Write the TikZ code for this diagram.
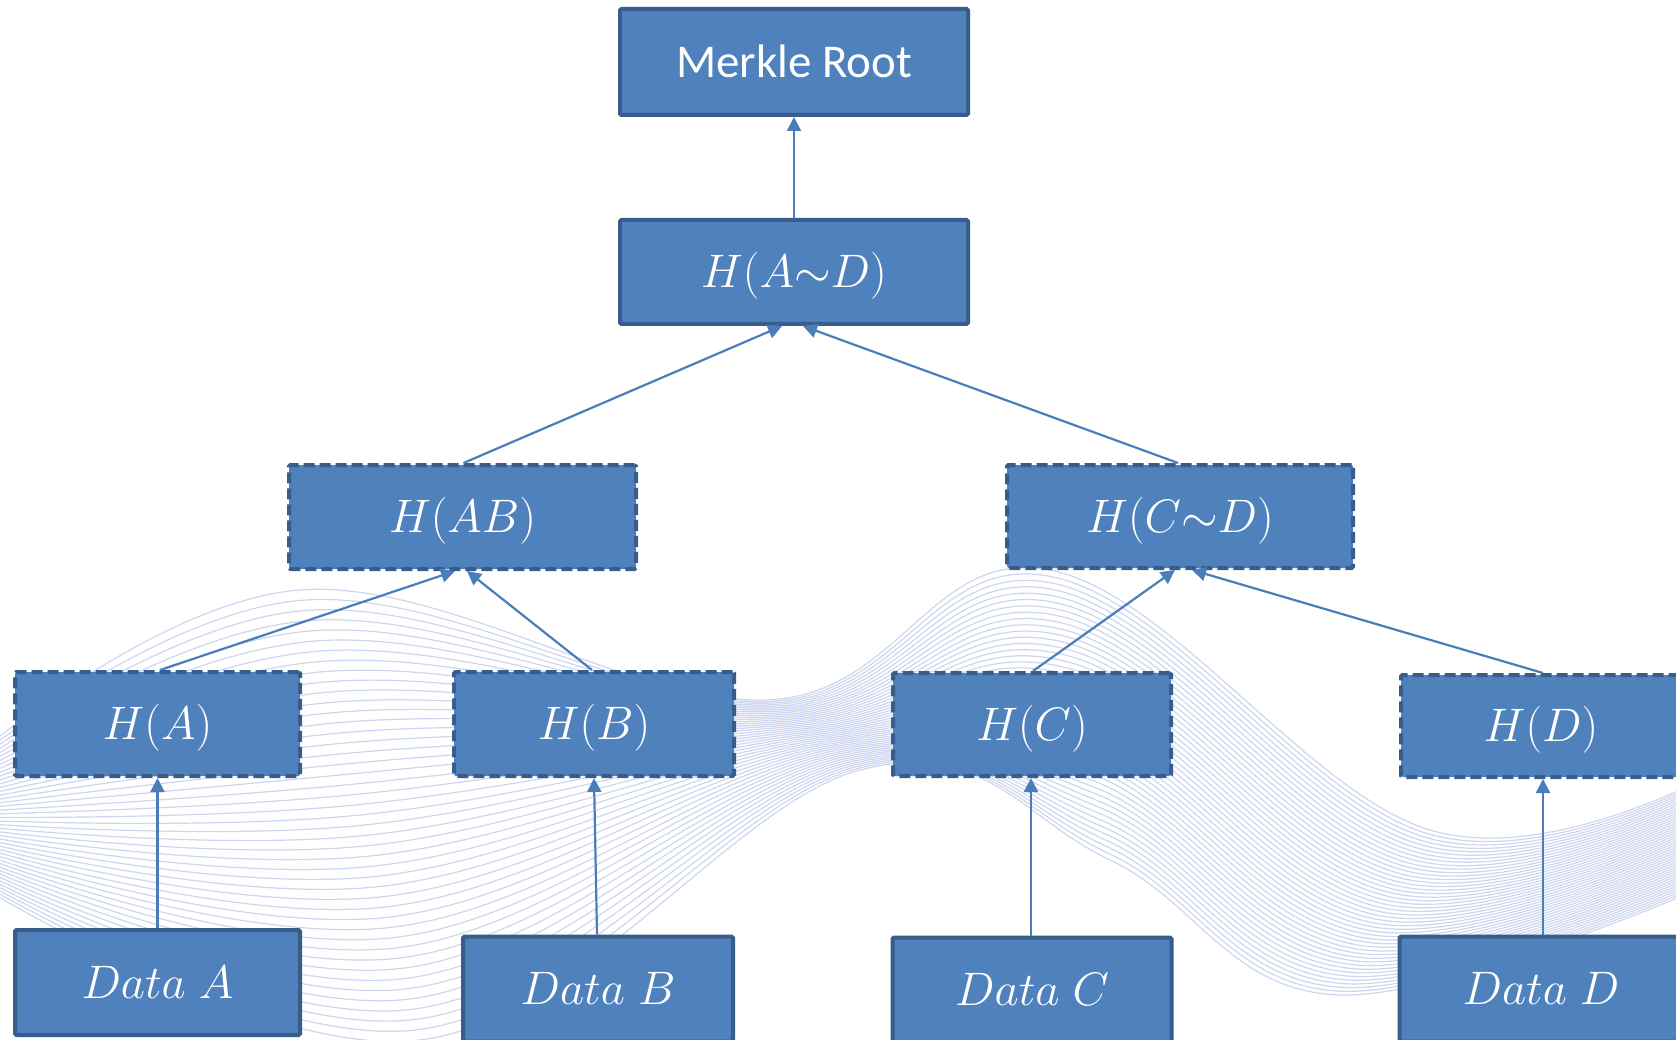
\RequirePackage{fix-cm}
\documentclass[tikz,border=0pt]{standalone}
\usepackage{fontspec}
\newfontfamily\calib{Carlito}
\usetikzlibrary{arrows.meta}
\definecolor{boxfill}{HTML}{4F81BD}
\definecolor{boxline}{HTML}{385D8A}
\definecolor{arr}{HTML}{4A7EBB}
\definecolor{wavec}{HTML}{B4C0E6}
\begin{document}
\begin{tikzpicture}[x=1pt,y=-1pt,
 box/.style={draw=boxline, fill=boxfill, line width=4pt, rounded corners=1.5pt, inner sep=0pt, text=white, text height=36pt, text depth=5pt, font=\fontsize{47}{50}\selectfont},
 hbox/.style={box, dash pattern=on 11pt off 5pt},
 conn/.style={draw=arr, line width=2.2pt, -{Triangle[length=14pt,width=14pt]}},
 wave/.style={draw=wavec, line width=1.2pt, opacity=0.65}]
\useasboundingbox (0,0) rectangle (1676,1040);
\begin{scope}
\clip (0,0) rectangle (1676,1040);
\foreach \i in {0,...,44}{
  \pgfmathsetmacro\t{\i/44}
  \pgfmathsetmacro\ya{760+120*\t}
  \pgfmathsetmacro\xb{300+120*\t}
  \pgfmathsetmacro\yb{590+450*\t}
  \pgfmathsetmacro\xc{765+95*\t}
  \pgfmathsetmacro\yc{700+70*\t}
  \pgfmathsetmacro\xd{1050+60*\t}
  \pgfmathsetmacro\yd{570+290*\t}
  \pgfmathsetmacro\xe{1430-90*\t}
  \pgfmathsetmacro\ye{830+165*\t}
  \pgfmathsetmacro\yf{770+110*\t}
  \draw[wave] plot[smooth,tension=0.65] coordinates {(-30,\ya) (\xb,\yb) (\xc,\yc) (\xd,\yd) (\xe,\ye) (1720,\yf)};
}
\end{scope}
\node[box, minimum width=348pt, minimum height=106pt] (root) at (794,62) {\calib Merkle Root};
\node[box, minimum width=348pt, minimum height=104pt] (had) at (794,272) {$H(A{\sim}D)$};
\node[hbox, minimum width=347pt, minimum height=104pt] (hab) at (462.5,517) {$H(AB)$};
\node[hbox, minimum width=346pt, minimum height=103pt] (hcd) at (1180,516.5) {$H(C{\sim}D)$};
\node[hbox, minimum width=285pt, minimum height=104pt] (ha) at (157.5,724) {$H(A)$};
\node[hbox, minimum width=280pt, minimum height=104pt] (hb) at (594,724) {$H(B)$};
\node[hbox, minimum width=278pt, minimum height=103pt] (hc) at (1032,724.5) {$H(C)$};
\node[hbox, minimum width=280pt, minimum height=102pt] (hd) at (1541,726) {$H(D)$};
\node[box, minimum width=285pt, minimum height=105pt] (da) at (157.5,982.5) {$Data\;A$};
\node[box, minimum width=270pt, minimum height=105pt] (db) at (598,989) {$Data\;B$};
\node[box, minimum width=279pt, minimum height=105pt] (dc) at (1032,990) {$Data\;C$};
\node[box, minimum width=283pt, minimum height=105pt] (dd) at (1541,989) {$Data\;D$};
\draw[conn] (had.north) -- (root.south);
\draw[conn] ([xshift=1pt]hab.north) -- ([xshift=-12pt]had.south);
\draw[conn] ([xshift=-2pt]hcd.north) -- ([xshift=9pt]had.south);
\draw[conn] ([xshift=2.5pt]ha.north) -- ([xshift=-7.5pt]hab.south);
\draw[conn] ([xshift=-2pt]hb.north) -- ([xshift=4.5pt]hab.south);
\draw[conn] ([xshift=1pt]hc.north) -- ([xshift=-5pt]hcd.south);
\draw[conn] ([xshift=2pt]hd.north) -- ([xshift=12pt]hcd.south);
\draw[conn] (da.north) -- (ha.south);
\draw[conn] ([xshift=-1pt]db.north) -- (hb.south);
\draw[conn] ([xshift=-1pt]dc.north) -- ([xshift=-1pt]hc.south);
\draw[conn] ([xshift=2pt]dd.north) -- ([xshift=2pt]hd.south);
\end{tikzpicture}
\end{document}
